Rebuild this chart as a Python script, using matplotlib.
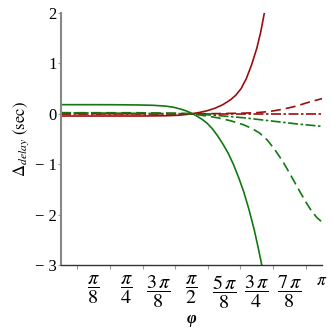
import numpy as np
import matplotlib
matplotlib.use("Agg")
import matplotlib.pyplot as plt

plt.rcParams['font.family'] = ['Liberation Serif', 'DejaVu Serif']
plt.rcParams['mathtext.fontset'] = 'stix'

# phi values in units of pi
g1_phi = [0, 0.1, 0.2, 0.3, 0.35, 0.4, 0.43, 0.46, 0.48, 0.5, 0.52, 0.54, 0.56, 0.58, 0.6, 0.62,
          0.64, 0.66, 0.68, 0.7, 0.72, 0.74, 0.755, 0.769]
g1_val = [0.18, 0.18, 0.179, 0.174, 0.168, 0.152, 0.13, 0.09, 0.055, 0.01, -0.045, -0.11, -0.19, -0.3,
          -0.44, -0.6, -0.78, -1.0, -1.26, -1.55, -1.9, -2.3, -2.65, -3.0]

r1_phi = [0, 0.3, 0.4, 0.45, 0.48, 0.5, 0.53, 0.56, 0.59, 0.62, 0.65, 0.67, 0.69, 0.71, 0.73,
          0.75, 0.765, 0.779]
r1_val = [-0.045, -0.045, -0.04, -0.03, -0.015, 0.0, 0.025, 0.06, 0.11, 0.18, 0.28, 0.37, 0.5, 0.7,
          0.97, 1.3, 1.62, 2.0]

g2_phi = [0, 0.3, 0.45, 0.5, 0.55, 0.6, 0.65, 0.7, 0.73, 0.76, 0.79, 0.82, 0.85, 0.88, 0.91,
          0.94, 0.96, 0.98, 1.0]
g2_val = [0.02, 0.02, 0.01, 0.0, -0.04, -0.08, -0.14, -0.22, -0.29, -0.38, -0.52, -0.72, -0.95,
          -1.22, -1.5, -1.77, -1.93, -2.06, -2.15]

r2_phi = [0, 0.5, 0.6, 0.7, 0.75, 0.8, 0.85, 0.9, 0.95, 1.0]
r2_val = [0.0, 0.0, 0.003, 0.012, 0.022, 0.045, 0.09, 0.15, 0.23, 0.30]

r3_phi = [0, 0.5, 1.0]
r3_val = [0.0, 0.0, 0.0]

g3_phi = [0, 0.5, 0.6, 0.7, 0.8, 0.9, 1.0]
g3_val = [0.02, 0.0, -0.035, -0.08, -0.14, -0.2, -0.25]

xtick_labels = [r'$\dfrac{\pi}{8}$', r'$\dfrac{\pi}{4}$', r'$\dfrac{3\,\pi}{8}$', r'$\dfrac{\pi}{2}$',
                r'$\dfrac{5\,\pi}{8}$', r'$\dfrac{3\,\pi}{4}$', r'$\dfrac{7\,\pi}{8}$', r'$\pi$']

RED = '#990f0f'
GREEN = '#127812'

fig = plt.figure(figsize=(3.32, 3.32), dpi=100)
ax = fig.add_axes([0.184, 0.202, 0.786, 0.759])

lw = 1.2
P = np.pi
ax.plot(np.array(g1_phi) * P, g1_val, color=GREEN, lw=lw)
ax.plot(np.array(r1_phi) * P, r1_val, color=RED, lw=lw)
ax.plot(np.array(g2_phi) * P, g2_val, color=GREEN, lw=lw, dashes=(6, 3))
ax.plot(np.array(r2_phi) * P, r2_val, color=RED, lw=lw, dashes=(6, 3))
ax.plot(np.array(r3_phi) * P, r3_val, color=RED, lw=lw, dashes=(6, 1.5, 1.5, 1.5))
ax.plot(np.array(g3_phi) * P, g3_val, color=GREEN, lw=lw, dashes=(6, 1.5, 1.5, 1.5))

ax.set_xlim(0, P)
ax.set_ylim(-3, 2)

ax.set_xticks([k * P / 8 for k in range(1, 9)])
labels = ax.set_xticklabels(xtick_labels, fontsize=14.5)
labels[-1].set_fontsize(12.5)
ax.set_xticks([k * P / 16 for k in range(1, 17)], minor=True)
ax.tick_params(axis='x', which='major', length=0, pad=6)
ax.tick_params(axis='x', which='minor', length=3, color='#999999', width=0.8, direction='out')
ax.set_yticks([-3, -2, -1, 0, 1, 2])
ax.set_yticklabels(['\u2212 3', '\u2212 2', '\u2212 1', '0', '1', '2'], fontsize=12)
ax.tick_params(axis='y', length=2, color='#999999', pad=1)

for s in ['top', 'right']:
    ax.spines[s].set_visible(False)
ax.spines['left'].set_color('#888888')
ax.spines['left'].set_linewidth(1.5)
ax.spines['bottom'].set_color('#333333')
ax.spines['bottom'].set_linewidth(1.0)

ax.set_xlabel('\u03c6', fontsize=12, fontweight='bold', fontstyle='italic', labelpad=0)
ax.set_ylabel(r'$\Delta_{delay}\ \mathrm{(sec)}$', fontsize=12, labelpad=3)

fig.savefig('out.png', dpi=100)
